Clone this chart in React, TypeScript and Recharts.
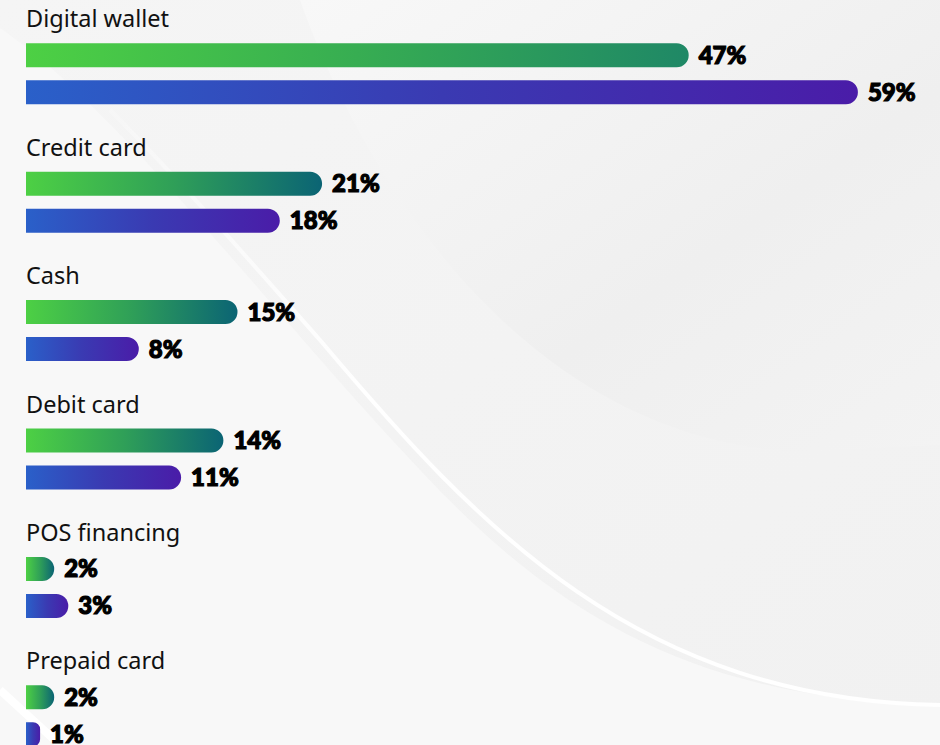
import React from "react";
import { BarChart, Bar, XAxis, YAxis, LabelList, Cell } from "recharts";

const categories = ["Digital wallet", "Credit card", "Cash", "Debit card", "POS financing", "Prepaid card"];
const seriesA = [47, 21, 15, 14, 2, 2];
const seriesB = [59, 18, 8, 11, 3, 1];

const data = categories.map((name, i) => ({ name, a: seriesA[i], b: seriesB[i] }));

const CategoryLabel = (props: any) => {
  const { x, y, value } = props;
  return (
    <text x={x} y={Number(y) - 16} fill="#111" fontSize={23.5} fontFamily="'Noto Sans', sans-serif" textAnchor="start">
      {value}
    </text>
  );
};

const valueFmt = (v: any) => `${v}%`;

const Background = () => (
  <svg width={940} height={745} style={{ position: "absolute", left: 0, top: 0 }}>
    <defs>
      <linearGradient id="bgBase" x1="0" y1="0" x2="1" y2="1">
        <stop offset="0" stopColor="#f5f5f5" />
        <stop offset="1" stopColor="#f1f1f1" />
      </linearGradient>
      <linearGradient id="bgDark" x1="0" y1="0" x2="1" y2="1">
        <stop offset="0" stopColor="#f8f8f8" />
        <stop offset="0.6" stopColor="#efefef" />
        <stop offset="1" stopColor="#f3f3f3" />
      </linearGradient>
      <linearGradient id="lineFade" x1="0" y1="0" x2="1" y2="0">
        <stop offset="0" stopColor="#ffffff" stopOpacity="0.2" />
        <stop offset="0.3" stopColor="#ffffff" stopOpacity="1" />
        <stop offset="1" stopColor="#ffffff" stopOpacity="1" />
      </linearGradient>
    </defs>
    <rect x={0} y={0} width={940} height={745} fill="url(#bgBase)" />
    <path d="M0 28 C 120 110, 260 300, 420 470 C 560 620, 700 700, 940 705 L 940 745 L 0 745 Z" fill="#f8f8f8" />
    <path d="M300 0 C 360 170, 520 440, 800 452 L 940 445 L 940 0 Z" fill="url(#bgDark)" />
    <path d="M110 110 C 180 180, 240 250, 320 340 C 480 530, 640 700, 940 705" fill="none" stroke="url(#lineFade)" strokeWidth={4} />
    <path d="M0 690 L 60 745" stroke="#ffffff" strokeWidth={8} />
  </svg>
);

export default function App() {
  return (
    <div style={{ position: "fixed", left: 0, top: 0, width: 940, height: 745, overflow: "hidden" }}>
      <Background />
      <div style={{ position: "absolute", left: 0, top: 0 }}>
        <BarChart
          width={940}
          height={790}
          data={data}
          layout="vertical"
          margin={{ top: 9.3, right: 68, bottom: 10.3, left: 26 }}
          barSize={24}
          barGap={13}
        >
          <defs>
            <linearGradient id="gGreen" x1="0" y1="0" x2="1" y2="0">
              <stop offset="0" stopColor="#4dd044" />
              <stop offset="0.5" stopColor="#2f9f58" />
              <stop offset="1" stopColor="#0b6474" />
            </linearGradient>
            <linearGradient id="gGreenTop" x1="0" y1="0" x2="1" y2="0">
              <stop offset="0" stopColor="#4dd044" />
              <stop offset="0.5" stopColor="#37ad52" />
              <stop offset="1" stopColor="#1f8866" />
            </linearGradient>
            <linearGradient id="gBlue" x1="0" y1="0" x2="1" y2="0">
              <stop offset="0" stopColor="#2a60c9" />
              <stop offset="0.5" stopColor="#3a3ab2" />
              <stop offset="1" stopColor="#4a1ca8" />
            </linearGradient>
          </defs>
          <XAxis type="number" domain={[0, 60]} hide />
          <YAxis type="category" dataKey="name" hide />
          <Bar dataKey="a" radius={[0, 12, 12, 0]} isAnimationActive={false}>
            {data.map((d, i) => (
              <Cell key={d.name} fill={i === 0 ? "url(#gGreenTop)" : "url(#gGreen)"} />
            ))}
            <LabelList dataKey="name" content={CategoryLabel} />
            <LabelList
              dataKey="a"
              position="right"
              offset={10}
              formatter={valueFmt}
              fill="#000"
              stroke="#000"
              strokeWidth={1.2}
              fontSize={24}
              fontWeight={900}
              fontFamily="Lato, sans-serif"
            />
          </Bar>
          <Bar dataKey="b" fill="url(#gBlue)" radius={[0, 12, 12, 0]} isAnimationActive={false}>
            <LabelList
              dataKey="b"
              position="right"
              offset={10}
              formatter={valueFmt}
              fill="#000"
              stroke="#000"
              strokeWidth={1.2}
              fontSize={24}
              fontWeight={900}
              fontFamily="Lato, sans-serif"
            />
          </Bar>
        </BarChart>
      </div>
    </div>
  );
}
